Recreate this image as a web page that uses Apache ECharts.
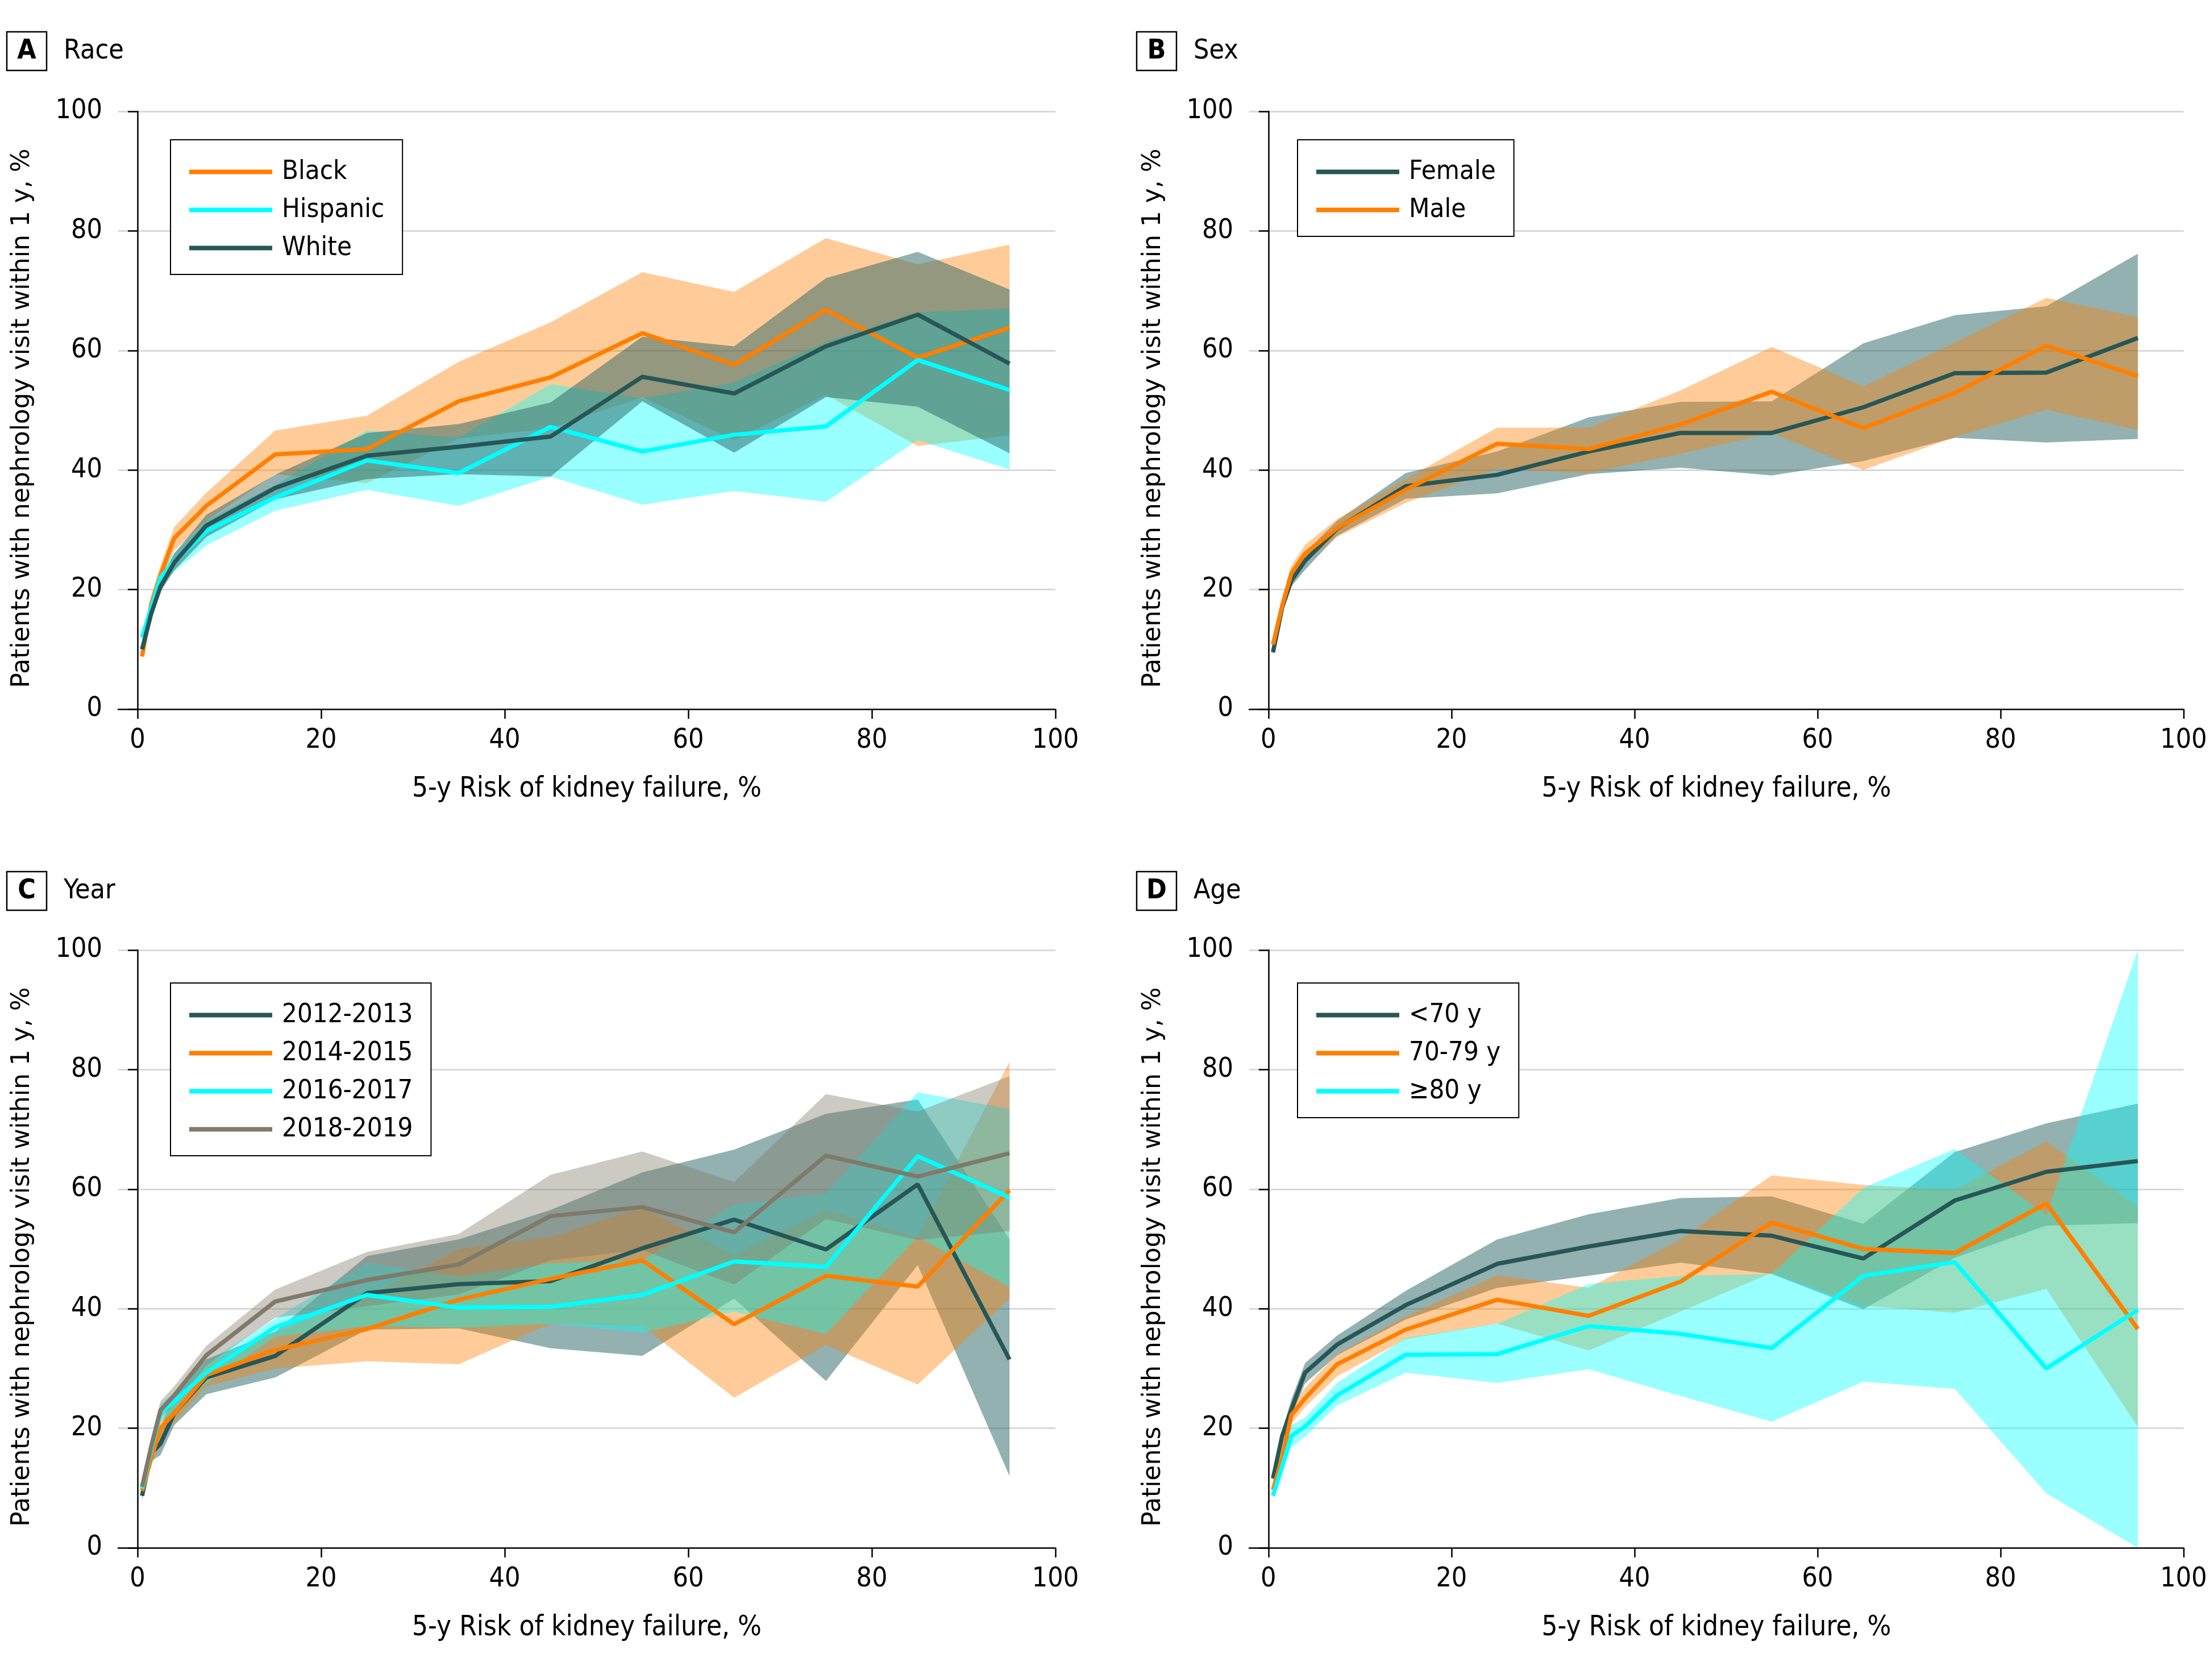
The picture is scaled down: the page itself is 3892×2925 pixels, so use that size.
<!DOCTYPE html>
<html>
<head>
<meta charset="utf-8">
<script src="https://cdn.jsdelivr.net/npm/echarts@6/dist/echarts.min.js"></script>
<style>
html,body{margin:0;padding:0;background:#fff;}
#chart{width:3892px;height:2925px;}
</style>
</head>
<body>
<div id="chart"></div>
<script>
// ---------- DATA ----------
const riskX = [0.5, 1.5, 2.5, 4, 7.5, 15, 25, 35, 45, 55, 65, 75, 85, 95];
const xTicks = [0, 20, 40, 60, 80, 100];

// Panel A – Race
const raceBlack   = [8.8, 17.6, 22.4, 28.6, 34.0, 42.6, 43.5, 51.5, 55.5, 62.9, 57.6, 66.8, 58.8, 63.8];
const raceBlackLo = [8.2, 16.0, 21.0, 26.5, 31.5, 39.3, 37.8, 45.3, 47.0, 52.2, 45.0, 52.6, 44.0, 45.8];
const raceBlackHi = [9.6, 19.0, 24.0, 30.5, 36.2, 46.6, 49.1, 58.1, 64.7, 73.1, 69.8, 78.8, 74.4, 77.7];
const raceHisp    = [12.0, 17.0, 22.0, 24.6, 29.8, 35.4, 41.6, 39.5, 47.2, 43.1, 45.9, 47.3, 58.4, 53.4];
const raceHispLo  = [11.4, 16.0, 20.5, 23.0, 27.4, 33.2, 36.7, 34.0, 38.9, 34.2, 36.5, 34.7, 45.0, 40.1];
const raceHispHi  = [12.6, 18.0, 23.2, 26.2, 31.5, 37.5, 46.6, 45.4, 54.4, 52.0, 54.6, 61.4, 66.4, 67.0];
const raceWhite   = [10.0, 16.0, 20.5, 24.5, 30.7, 37.0, 42.4, 43.9, 45.6, 55.6, 52.8, 60.7, 66.0, 57.8];
const raceWhiteLo = [9.6, 15.2, 19.6, 23.2, 28.8, 35.1, 38.5, 39.3, 38.9, 51.5, 42.9, 52.2, 50.6, 42.8];
const raceWhiteHi = [10.4, 17.0, 21.5, 26.0, 32.5, 39.2, 46.2, 47.7, 51.3, 62.3, 60.7, 72.1, 76.5, 70.2];

// Panel B – Sex
const sexFemale   = [9.5, 17.0, 21.5, 24.8, 30.2, 37.3, 39.2, 43.1, 46.2, 46.2, 50.5, 56.2, 56.3, 62.1];
const sexFemaleLo = [9.0, 16.0, 20.5, 23.3, 29.0, 35.2, 36.1, 39.3, 40.4, 39.1, 41.5, 45.4, 44.6, 45.2];
const sexFemaleHi = [10.0, 18.0, 22.5, 26.2, 31.5, 39.5, 43.1, 48.8, 51.4, 51.5, 61.2, 65.9, 67.4, 76.2];
const sexMale     = [10.8, 17.3, 22.7, 26.0, 30.3, 36.7, 44.4, 43.5, 47.6, 53.1, 47.0, 52.9, 60.8, 55.7];
const sexMaleLo   = [10.2, 16.5, 21.5, 24.5, 28.8, 34.5, 40.2, 39.5, 42.7, 46.2, 40.0, 45.5, 50.1, 46.7];
const sexMaleHi   = [11.4, 18.3, 24.0, 27.5, 31.8, 38.5, 47.1, 47.1, 53.3, 60.6, 54.0, 61.3, 68.8, 65.6];

// Panel C – Year
const yr1213   = [8.7, 15.8, 17.4, 22.5, 28.5, 32.1, 42.6, 44.1, 44.6, 50.1, 54.9, 49.9, 60.8, 31.5];
const yr1213Lo = [8.0, 14.5, 15.5, 20.5, 25.7, 28.5, 36.5, 36.7, 33.4, 32.1, 41.7, 27.9, 47.3, 12.0];
const yr1213Hi = [9.6, 17.5, 20.0, 26.0, 31.5, 36.2, 48.8, 51.6, 56.5, 62.8, 66.6, 72.6, 75.0, 51.6];
const yr1415   = [9.5, 15.0, 20.0, 22.5, 28.9, 33.1, 36.6, 41.5, 45.0, 48.1, 37.4, 45.5, 43.7, 59.8];
const yr1415Lo = [8.8, 13.8, 18.0, 21.0, 27.0, 30.0, 31.2, 30.7, 37.5, 37.1, 25.1, 33.9, 27.3, 41.7];
const yr1415Hi = [10.3, 16.5, 22.0, 24.5, 30.8, 36.0, 42.0, 50.0, 52.0, 57.0, 49.0, 56.5, 52.0, 81.3];
const yr1617   = [9.9, 16.5, 22.6, 24.5, 29.3, 36.9, 42.3, 40.2, 40.3, 42.3, 47.9, 47.0, 65.5, 58.6];
const yr1617Lo = [9.3, 15.2, 21.0, 23.0, 27.5, 35.3, 37.1, 36.8, 37.5, 36.0, 39.5, 35.8, 52.0, 43.6];
const yr1617Hi = [10.5, 17.8, 24.0, 26.0, 31.0, 38.3, 47.7, 45.4, 47.6, 48.1, 57.4, 59.3, 76.2, 73.4];
const yr1819   = [10.2, 17.0, 23.0, 25.5, 32.2, 41.2, 44.8, 47.4, 55.5, 57.0, 52.8, 65.6, 62.1, 66.0];
const yr1819Lo = [9.6, 16.0, 21.8, 24.0, 30.5, 38.5, 40.4, 42.4, 48.1, 49.8, 44.0, 55.0, 51.5, 53.0];
const yr1819Hi = [10.8, 18.5, 24.5, 27.0, 33.8, 43.2, 49.5, 52.5, 62.4, 66.3, 61.2, 75.9, 73.0, 78.9];

// Panel D – Age
const ageU70     = [11.6, 18.7, 23.1, 29.3, 34.0, 40.6, 47.5, 50.4, 53.0, 52.2, 48.4, 58.1, 62.9, 64.7];
const ageU70Lo   = [11.0, 17.8, 22.0, 27.5, 32.2, 38.2, 43.5, 45.5, 47.7, 45.8, 39.9, 48.5, 53.9, 54.3];
const ageU70Hi   = [12.3, 19.6, 24.8, 30.9, 35.5, 43.0, 51.6, 55.8, 58.5, 58.8, 54.2, 66.2, 71.0, 74.3];
const age7079    = [9.7, 15.1, 22.2, 25.0, 30.7, 36.5, 41.5, 38.8, 44.5, 54.4, 50.0, 49.3, 57.6, 36.6];
const age7079Lo  = [9.0, 14.0, 20.8, 23.5, 28.7, 34.9, 37.5, 33.0, 39.5, 46.0, 40.5, 39.3, 43.3, 20.2];
const age7079Hi  = [10.4, 16.4, 23.6, 26.8, 32.4, 38.7, 45.6, 43.5, 51.6, 62.3, 60.7, 59.9, 68.0, 57.1];
const age80      = [8.7, 13.6, 18.7, 20.3, 25.5, 32.3, 32.4, 37.1, 35.8, 33.4, 45.5, 47.8, 30.0, 39.8];
const age80Lo    = [8.2, 12.5, 16.8, 18.6, 23.8, 29.3, 27.6, 29.9, 25.4, 21.1, 27.8, 26.6, 9.1, 0.0];
const age80Hi    = [9.3, 14.8, 20.5, 21.8, 27.6, 35.1, 37.5, 44.1, 45.5, 45.8, 60.2, 66.7, 55.7, 100.0];

// ---------- STYLE ----------
const FONT_C = '"DejaVu Sans Condensed", "Liberation Sans Narrow", "DejaVu Sans", sans-serif';
const FONT_Y = '"DejaVu Sans", Verdana, sans-serif';
const ORANGE = '#ff7f00', CYAN = '#00ffff', TEAL = '#285656', GRAY = '#7f7a6a';
const BAND = {
  [ORANGE]: 'rgba(255,127,0,0.4)',
  [CYAN]: 'rgba(0,255,255,0.4)',
  [TEAL]: 'rgba(40,100,100,0.5)',
  [GRAY]: 'rgba(127,122,106,0.4)'
};

const panels = [
  { letter: 'A', title: 'Race', grid: {left: 208, top: 196, width: 1649, height: 1052},
    legend: {left: 300, top: 246}, box: {x: 12, y: 56},
    groups: [
      {name: 'Black', color: ORANGE, mean: raceBlack, lo: raceBlackLo, hi: raceBlackHi},
      {name: 'Hispanic', color: CYAN, mean: raceHisp, lo: raceHispLo, hi: raceHispHi},
      {name: 'White', color: TEAL, mean: raceWhite, lo: raceWhiteLo, hi: raceWhiteHi}
    ]},
  { letter: 'B', title: 'Sex', grid: {left: 2198, top: 196, width: 1644, height: 1052},
    legend: {left: 2283, top: 246}, box: {x: 2000, y: 56},
    groups: [
      {name: 'Female', color: TEAL, mean: sexFemale, lo: sexFemaleLo, hi: sexFemaleHi},
      {name: 'Male', color: ORANGE, mean: sexMale, lo: sexMaleLo, hi: sexMaleHi}
    ]},
  { letter: 'C', title: 'Year', grid: {left: 208, top: 1672, width: 1649, height: 1052},
    legend: {left: 300, top: 1730}, box: {x: 12, y: 1534},
    groups: [
      {name: '2012-2013', color: TEAL, mean: yr1213, lo: yr1213Lo, hi: yr1213Hi},
      {name: '2014-2015', color: ORANGE, mean: yr1415, lo: yr1415Lo, hi: yr1415Hi},
      {name: '2016-2017', color: CYAN, mean: yr1617, lo: yr1617Lo, hi: yr1617Hi},
      {name: '2018-2019', color: GRAY, mean: yr1819, lo: yr1819Lo, hi: yr1819Hi}
    ]},
  { letter: 'D', title: 'Age', grid: {left: 2198, top: 1672, width: 1644, height: 1052},
    legend: {left: 2283, top: 1730}, box: {x: 2000, y: 1534},
    groups: [
      {name: '<70 y', color: TEAL, mean: ageU70, lo: ageU70Lo, hi: ageU70Hi},
      {name: '70-79 y', color: ORANGE, mean: age7079, lo: age7079Lo, hi: age7079Hi},
      {name: '\u226580 y', color: CYAN, mean: age80, lo: age80Lo, hi: age80Hi}
    ]}
];

function bandRenderer(fill) {
  return function (params, api) {
    if (params.dataIndexInside !== 0) return null;
    const n = params.dataInsideLength;
    const pts = [];
    for (let i = 0; i < n; i++) pts.push(api.coord([api.value(0, i), api.value(2, i)]));
    for (let i = n - 1; i >= 0; i--) pts.push(api.coord([api.value(0, i), api.value(1, i)]));
    return {type: 'polygon', shape: {points: pts}, style: {fill: fill}, silent: true};
  };
}

const grids = [], xAxes = [], yAxes = [], series = [], legends = [], graphics = [];
panels.forEach((p, i) => {
  grids.push(Object.assign({containLabel: false}, p.grid));
  xAxes.push({
    type: 'value', gridIndex: i, min: -2.1, max: 100,
    axisLine: {show: true, onZero: false, lineStyle: {color: '#000', width: 2.5}},
    axisTick: {show: true, customValues: xTicks, length: 17, lineStyle: {color: '#000', width: 2.5}},
    axisLabel: {customValues: xTicks, margin: 32, color: '#000', fontSize: 48, fontFamily: FONT_C},
    splitLine: {show: false},
    name: '5-y Risk of kidney failure, %', nameLocation: 'middle', nameGap: 117,
    nameTextStyle: {color: '#000', fontSize: 49, fontFamily: FONT_C}
  });
  yAxes.push({
    type: 'value', gridIndex: i, min: 0, max: 100, interval: 20,
    axisLine: {show: true, lineStyle: {color: '#000', width: 2.5}},
    axisTick: {show: true, length: 17, lineStyle: {color: '#000', width: 2.5}},
    axisLabel: {margin: 28, color: '#000', fontSize: 48, fontFamily: FONT_C},
    splitLine: {show: true, showMinLine: false, lineStyle: {color: '#d9d9d9', width: 3}},
    name: 'Patients with nephrology visit within 1 y, %', nameLocation: 'middle', nameGap: 146,
    nameTextStyle: {color: '#000', fontSize: 44, fontFamily: FONT_Y, padding: [0, 28, 0, 0]}
  });
  p.groups.forEach(g => {
    series.push({
      type: 'custom', name: g.name + ' CI', xAxisIndex: i, yAxisIndex: i, z: 2, silent: true,
      data: riskX.map((x, k) => [x, g.lo[k], g.hi[k]]),
      encode: {x: 0, y: [1, 2]},
      renderItem: bandRenderer(BAND[g.color])
    });
  });
  p.groups.forEach(g => {
    series.push({
      type: 'line', name: g.name, xAxisIndex: i, yAxisIndex: i, z: 3, silent: true,
      data: riskX.map((x, k) => [x, g.mean[k]]),
      symbol: 'none', lineStyle: {color: g.color, width: 7.5}, itemStyle: {color: g.color}
    });
  });
  legends.push({
    data: p.groups.map(g => g.name), orient: 'vertical', left: p.legend.left, top: p.legend.top,
    icon: 'rect', itemWidth: 146, itemHeight: 8, itemGap: 20,
    borderColor: '#000', borderWidth: 2, backgroundColor: '#fff',
    padding: [33, 32, 23, 33], selectedMode: false,
    textStyle: {color: '#000', fontSize: 47, fontFamily: FONT_C, padding: [0, 0, 0, 12]}
  });
  graphics.push({type: 'rect', shape: {x: p.box.x, y: p.box.y, width: 70, height: 68},
    style: {fill: 'none', stroke: '#000', lineWidth: 2.5}});
  graphics.push({type: 'text', x: p.box.x + 35, y: p.box.y + 35,
    style: {text: p.letter, fill: '#000', fontSize: 48, fontWeight: 'bold', fontFamily: FONT_C,
            align: 'center', verticalAlign: 'middle'}});
  graphics.push({type: 'text', x: p.box.x + 100, y: p.box.y + 35,
    style: {text: p.title, fill: '#000', fontSize: 48, fontFamily: FONT_C,
            align: 'left', verticalAlign: 'middle'}});
});

const chart = echarts.init(document.getElementById('chart'), null, {renderer: 'canvas'});
chart.setOption({
  animation: false,
  backgroundColor: '#fff',
  grid: grids, xAxis: xAxes, yAxis: yAxes,
  legend: legends, series: series, graphic: graphics
});
</script>
</body>
</html>
